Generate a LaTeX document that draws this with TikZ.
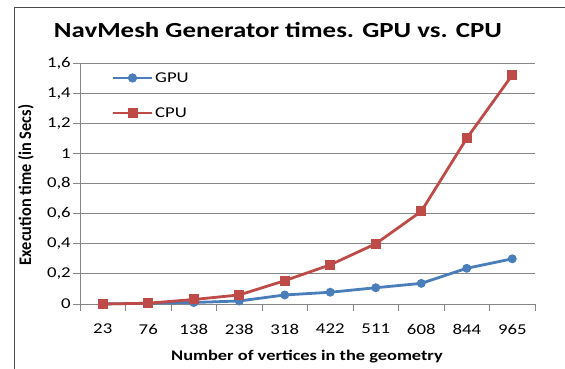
\documentclass[tikz,border=0pt]{standalone}
\usepackage{fontspec}
\setmainfont{Carlito}
\usetikzlibrary{positioning}

\definecolor{gpublue}{RGB}{74,126,187}
\definecolor{cpured}{RGB}{190,75,72}
\definecolor{gridgray}{RGB}{134,134,134}
\newcommand{\wider}[1]{\scalebox{1.25}[1]{#1}}

\begin{document}
\begin{tikzpicture}[x=1pt, y=1pt,
    frame/.style={draw=black!70, line width=0.9pt},
    gridline/.style={draw=gridgray, line width=0.9pt},
    title/.style={font=\bfseries\fontsize{21.5}{25}\selectfont},
    ticklbl/.style={font=\fontsize{15}{17}\selectfont, inner sep=0pt},
    axislbl/.style={font=\bfseries\fontsize{14.7}{17}\selectfont, inner sep=0pt},
    gpuline/.style={draw=gpublue, line width=2.8pt, line join=round, line cap=round},
    cpuline/.style={draw=cpured, line width=2.8pt, line join=round, line cap=round},
    gpumark/.style={circle, fill=gpublue, inner sep=0pt, minimum size=9pt},
    cpumark/.style={rectangle, fill=cpured, inner sep=0pt, minimum size=10pt}
]
\useasboundingbox (0,0) rectangle (565,369);
% chart frame
\draw[frame] (14,0) -- (14,362) -- (565,362);
\node[title] (title) at (278,339) {\wider{NavMesh Generator times. GPU vs. CPU}};

% plot area
\begin{scope}[shift={(80,65)}, x=45.5pt, y=150.6pt]
  \foreach \v/\lab [count=\i] in {0/0, 0.2/{0,2}, 0.4/{0,4}, 0.6/{0,6}, 0.8/{0,8},
                                  1/1, 1.2/{1,2}, 1.4/{1,4}, 1.6/{1,6}} {
    \draw[gridline] (-0.154,\v) -- (10,\v);
    \node[ticklbl, anchor=east] (ylab\i) at (-0.2,\v) {\wider{\lab}};
  }
  \draw[gridline] (0,0) -- (0,1.6);
  \foreach \n [count=\i] in {23,76,138,238,318,422,511,608,844,965} {
    \draw[gridline] (\i-1,0) -- (\i-1,-0.045);
    \node[ticklbl] (xlab\i) at (\i-0.5,-0.166) {\wider{\n}};
  }
  \draw[gridline] (10,0) -- (10,-0.045);

  % GPU series
  \draw[gpuline] (0.5,0) -- (1.5,0.005) -- (2.5,0.01) -- (3.5,0.02) -- (4.5,0.06)
    -- (5.5,0.078) -- (6.5,0.108) -- (7.5,0.137) -- (8.5,0.237) -- (9.5,0.30);
  \foreach \x/\v [count=\i] in {0.5/0, 1.5/0.005, 2.5/0.01, 3.5/0.02, 4.5/0.06,
                                5.5/0.078, 6.5/0.108, 7.5/0.137, 8.5/0.237, 9.5/0.30}
    \node[gpumark] (gpu\i) at (\x,\v) {};

  % CPU series
  \draw[cpuline] (0.5,0) -- (1.5,0.005) -- (2.5,0.03) -- (3.5,0.06) -- (4.5,0.155)
    -- (5.5,0.26) -- (6.5,0.40) -- (7.5,0.615) -- (8.5,1.10) -- (9.5,1.52);
  \foreach \x/\v [count=\i] in {0.5/0, 1.5/0.005, 2.5/0.03, 3.5/0.06, 4.5/0.155,
                                5.5/0.26, 6.5/0.40, 7.5/0.615, 8.5/1.10, 9.5/1.52}
    \node[cpumark] (cpu\i) at (\x,\v) {};
\end{scope}

% axis titles
\node[axislbl, rotate=90] (ytitle) at (26,184) {\scalebox{1.11}[1.2]{Execution time (in Secs)}};
\node[axislbl] (xtitle) at (307,12) {\wider{Number of vertices in the geometry}};

% legend
\node[gpumark] (leggpu) at (132.5,291) {};
\draw[gpuline, line cap=butt] (113,291) -- (152,291);
\node[gpumark] at (leggpu) {};
\node[ticklbl, anchor=west] (legtxtgpu) at (155,291) {\wider{GPU}};
\node[cpumark] (legcpu) at (132.5,256) {};
\draw[cpuline, line cap=butt] (113,256) -- (152,256);
\node[cpumark] at (legcpu) {};
\node[ticklbl, anchor=west] (legtxtcpu) at (155,256) {\wider{CPU}};
\end{tikzpicture}
\end{document}
